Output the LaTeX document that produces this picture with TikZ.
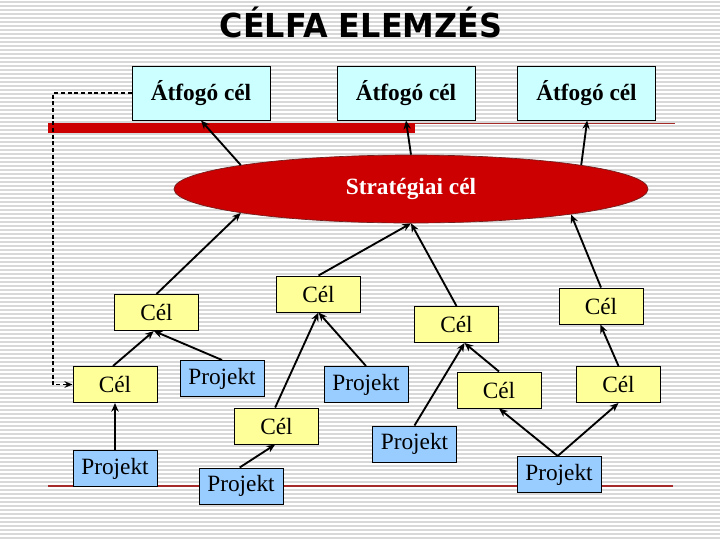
\documentclass[tikz,border=0pt]{standalone}
\usepackage{fontspec}
\setmainfont{Liberation Serif}
\newfontfamily\titlefont{DejaVu Sans}
\usetikzlibrary{arrows.meta,shapes.geometric}
\definecolor{cyanbox}{HTML}{CCFFFF}
\definecolor{yelbox}{HTML}{FFFF99}
\definecolor{bluebox}{HTML}{99CCFF}
\definecolor{redfill}{HTML}{CC0000}
\definecolor{redline}{HTML}{A52A2A}
\definecolor{stripecol}{HTML}{D8D8D8}
\begin{document}
\begin{tikzpicture}[x=0.75pt,y=-0.75pt,
  box/.style={draw=black,line width=0.75pt,minimum width=63pt,minimum height=27pt,inner sep=0pt,font=\fontsize{17.5}{20}\selectfont},
  celbox/.style={box,fill=yelbox},
  projbox/.style={box,fill=bluebox},
  topbox/.style={box,fill=cyanbox,minimum width=103.5pt,minimum height=40.5pt,font=\fontsize{17.5}{20}\selectfont\bfseries},
  arr/.style={line width=1.4pt,-{Stealth[length=6.5pt,width=5.5pt]}},
  dashline/.style={line width=1.3pt,dash pattern=on 3pt off 2pt,-{Stealth[length=6pt,width=5pt]}},
  stripe/.style={stripecol,line width=0.8pt},
  thinred/.style={redline,line width=0.8pt}]
\useasboundingbox (0,0) rectangle (720,540);
\fill[white] (0,0) rectangle (720,540);
\foreach \i in {0,...,134} \draw[stripe] (0,\i*4+2) -- (720,\i*4+2);
% title
\node[anchor=base,inner sep=0pt] (title) at (361,37) {\scalebox{0.965}[1]{\titlefont\fontsize{24.75}{28}\selectfont\bfseries CÉLFA ELEMZÉS}};
% red lines
\fill[redfill] (48,123) rectangle (415,133);
\draw[thinred] (415,123.5) -- (675,123.5);
\draw[thinred] (48,486) -- (673,486);
% top boxes
\node[topbox] (A1) at (201,93) {Átfogó cél};
\node[topbox] (A2) at (406,93) {Átfogó cél};
\node[topbox] (A3) at (586.5,93) {Átfogó cél};
% ellipse
\node[ellipse,fill=redfill,draw=redline!70!black,line width=0.5pt,minimum width=355.5pt,minimum height=51pt,inner sep=0pt,text=white,font=\fontsize{17.5}{20}\selectfont\bfseries] (E) at (411,189) {Stratégiai cél};
% lower boxes
\node[celbox] (L1) at (156.5,312.5) {Cél};
\node[celbox] (M1) at (318.5,294) {Cél};
\node[celbox] (M2) at (456.5,324.5) {Cél};
\node[celbox] (R1) at (601,306) {Cél};
\node[celbox] (L2) at (115,384.5) {Cél};
\node[projbox] (P1) at (222,378.5) {Projekt};
\node[celbox] (M3) at (276.5,426) {Cél};
\node[projbox] (PL) at (115,468.5) {Projekt};
\node[projbox] (PM) at (241,486) {Projekt};
\node[projbox] (P2) at (366,384.5) {Projekt};
\node[celbox] (M4) at (499,390) {Cél};
\node[celbox] (R2) at (618.5,384.5) {Cél};
\node[projbox] (P3) at (414.5,444) {Projekt};
\node[projbox] (P4) at (559,474.5) {Projekt};
% connectors to top boxes
\draw[arr] (E.172) -- (A1.south);
\draw[arr] (E.90) -- (A2.south);
\draw[arr] (E.8) -- ([xshift=0.5pt]A3.south);
% connectors to ellipse
\draw[arr] (L1.north) -- (E.188);
\draw[arr] (M1.north) -- (E.270);
\draw[arr] (M2.north) -- (E.270);
\draw[arr] (R1.north) -- (E.351.5);
% lower connectors
\draw[arr] ([xshift=-1.5pt]L2.north) -- ([xshift=-2pt]L1.south);
\draw[arr] (P1.north) -- ([xshift=-2pt]L1.south);
\draw[arr] ([xshift=-1pt]M3.north) -- (M1.south);
\draw[arr] (P2.north) -- (M1.south);
\draw[arr] (PL.north) -- (L2.south);
\draw[arr] ([xshift=-1pt]PM.north) -- ([xshift=-1pt]M3.south);
\draw[arr] (P3.north) -- ([xshift=6pt]M2.south);
\draw[arr] (M4.north) -- ([xshift=6pt]M2.south);
\draw[arr] (R2.north) -- ([xshift=-0.5pt]R1.south);
\draw[arr] ([xshift=-1pt]P4.north) -- (M4.south);
\draw[arr] ([xshift=-1pt]P4.north) -- (R2.south);
% dashed feedback
\coordinate (dk) at (53,93);
\draw[dashline] (A1.west) -- (dk) |- (L2.west);
\end{tikzpicture}
\end{document}
